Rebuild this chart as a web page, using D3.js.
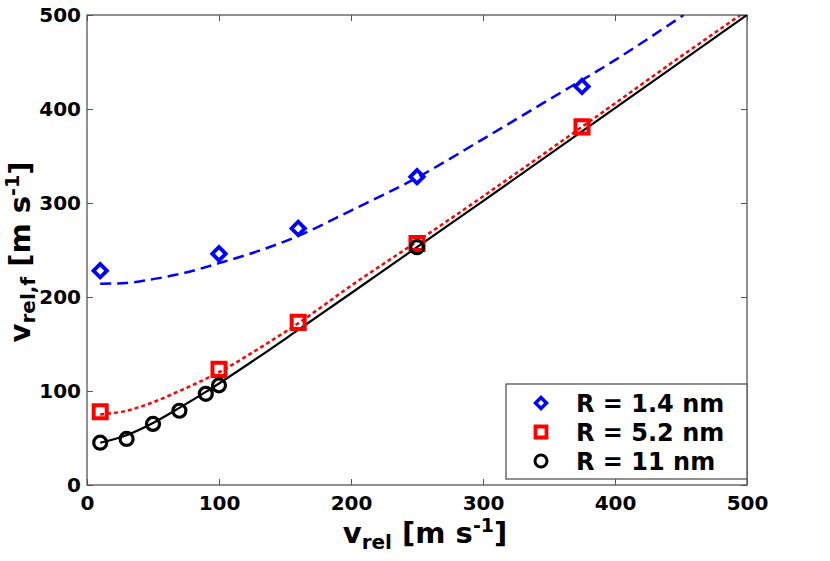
<!DOCTYPE html>
<html>
<head>
<meta charset="utf-8">
<script src="https://cdn.jsdelivr.net/npm/d3@7"></script>
<style>
  body { margin: 0; background: #fff; }
  text { font-family: "DejaVu Sans", sans-serif; font-weight: bold; }
</style>
</head>
<body>
<svg id="chart"></svg>
<script>
var width = 830, height = 561;
var margin = { top: 15, right: 83, bottom: 76, left: 87 };

// measured points
var blueX = [10, 100, 160, 250, 375];
var blueY = [228, 246, 273, 328, 424];
var redX = [10, 100, 160, 250, 375];
var redY = [78, 123, 173, 257, 381];
var blackX = [10, 30, 50, 70, 90, 100, 250];
var blackY = [45, 49, 65, 79, 97, 106, 253];

// fit curves
var blueFitX = [10, 30, 50, 75, 100, 130, 160, 200, 250, 300, 350, 400, 452];
var blueFitY = [214, 215, 219, 226, 236, 249, 265, 292, 327, 368, 410, 452, 500];
var redFitX = [10, 30, 50, 70, 100, 130, 160, 200, 250, 300, 375, 450, 500];
var redFitY = [75, 79, 88, 100, 120, 145, 172, 212, 259, 307, 381, 456, 505];
var blackFitX = [10, 30, 50, 70, 90, 100, 130, 160, 200, 250, 300, 400, 500];
var blackFitY = [45, 53, 66, 82, 99, 108, 136, 165, 204, 253, 302, 401, 500];

var legendLabels = ["R = 1.4 nm", "R = 5.2 nm", "R = 11 nm"];
var xTicks = [0, 100, 200, 300, 400, 500];
var yTicks = [0, 100, 200, 300, 400, 500];

var w = width - margin.left - margin.right;
var h = height - margin.top - margin.bottom;

var svg = d3.select("#chart").attr("width", width).attr("height", height);

var x = d3.scaleLinear().domain([0, 500]).range([margin.left, margin.left + w]);
var y = d3.scaleLinear().domain([0, 500]).range([margin.top + h, margin.top]);

svg.append("defs").append("clipPath").attr("id", "clip")
  .append("rect").attr("x", margin.left).attr("y", margin.top).attr("width", w).attr("height", h);

// axes, ticks pointing inward on all sides
function styleAxis(g) {
  g.select(".domain").remove();
  g.selectAll(".tick line").attr("stroke", "#555").attr("stroke-width", 1);
}
svg.append("g").attr("transform", "translate(0," + (margin.top + h) + ")")
  .call(d3.axisBottom(x).tickValues(xTicks).tickSizeInner(-6).tickSizeOuter(0).tickPadding(11))
  .call(styleAxis)
  .selectAll("text").attr("font-size", 20).attr("fill", "#000");
svg.append("g").attr("transform", "translate(" + margin.left + ",0)")
  .call(d3.axisLeft(y).tickValues(yTicks).tickSizeInner(-6).tickSizeOuter(0).tickPadding(6))
  .call(styleAxis)
  .selectAll("text").attr("font-size", 20).attr("fill", "#000");
svg.append("g").attr("transform", "translate(0," + margin.top + ")")
  .call(d3.axisTop(x).tickValues(xTicks).tickSizeInner(-6).tickSizeOuter(0).tickFormat(""))
  .call(styleAxis);
svg.append("g").attr("transform", "translate(" + (margin.left + w) + ",0)")
  .call(d3.axisRight(y).tickValues(yTicks).tickSizeInner(-6).tickSizeOuter(0).tickFormat(""))
  .call(styleAxis);

svg.append("rect").attr("x", margin.left).attr("y", margin.top)
  .attr("width", w).attr("height", h)
  .attr("fill", "none").attr("stroke", "#555").attr("stroke-width", 1.3);

var line = d3.line().curve(d3.curveMonotoneX)
  .x(function(d) { return x(d[0]); })
  .y(function(d) { return y(d[1]); });

var plot = svg.append("g").attr("clip-path", "url(#clip)");

function zip(a, b) { return a.map(function(v, i) { return [v, b[i]]; }); }

plot.append("path").datum(zip(blueFitX, blueFitY)).attr("d", line)
  .attr("fill", "none").attr("stroke", "#0000ff").attr("stroke-width", 2.5)
  .attr("stroke-dasharray", "11,6");
plot.append("path").datum(zip(redFitX, redFitY)).attr("d", line)
  .attr("fill", "none").attr("stroke", "#ff0000").attr("stroke-width", 2.5)
  .attr("stroke-dasharray", "4,3");
plot.append("path").datum(zip(blackFitX, blackFitY)).attr("d", line)
  .attr("fill", "none").attr("stroke", "#000").attr("stroke-width", 2.2);

var diamond = d3.symbol().type(d3.symbolSquare).size(90);
var square = d3.symbol().type(d3.symbolSquare).size(170);

svg.append("g").selectAll("path").data(zip(blueX, blueY)).enter().append("path")
  .attr("d", diamond)
  .attr("transform", function(d) { return "translate(" + x(d[0]) + "," + y(d[1]) + ") rotate(45)"; })
  .attr("fill", "none").attr("stroke", "#0000ff").attr("stroke-width", 3.8);

svg.append("g").selectAll("path").data(zip(redX, redY)).enter().append("path")
  .attr("d", square)
  .attr("transform", function(d) { return "translate(" + x(d[0]) + "," + y(d[1]) + ")"; })
  .attr("fill", "none").attr("stroke", "#ff0000").attr("stroke-width", 4);

svg.append("g").selectAll("circle").data(zip(blackX, blackY)).enter().append("circle")
  .attr("cx", function(d) { return x(d[0]); })
  .attr("cy", function(d) { return y(d[1]); })
  .attr("r", 6.5)
  .attr("fill", "none").attr("stroke", "#000").attr("stroke-width", 3.2);

// legend
var lg = svg.append("g");
lg.append("rect").attr("x", 506).attr("y", 384).attr("width", 241).attr("height", 95)
  .attr("fill", "#fff").attr("stroke", "#555").attr("stroke-width", 1.3);
var rowY = [403, 432, 461];
lg.append("path").attr("d", d3.symbol().type(d3.symbolSquare).size(60))
  .attr("transform", "translate(541," + rowY[0] + ") rotate(45)")
  .attr("fill", "none").attr("stroke", "#0000ff").attr("stroke-width", 3.5);
lg.append("path").attr("d", d3.symbol().type(d3.symbolSquare).size(120))
  .attr("transform", "translate(541," + rowY[1] + ")")
  .attr("fill", "none").attr("stroke", "#ff0000").attr("stroke-width", 3.8);
lg.append("circle").attr("cx", 541).attr("cy", rowY[2]).attr("r", 6)
  .attr("fill", "none").attr("stroke", "#000").attr("stroke-width", 3);
lg.selectAll("text.lab").data(legendLabels).enter().append("text")
  .attr("class", "lab")
  .attr("x", 576).attr("y", function(d, i) { return rowY[i]; })
  .attr("dy", "0.36em").attr("font-size", 24).text(function(d) { return d; });

// axis titles
var xt = svg.append("text").attr("x", margin.left + w / 2 + 8).attr("y", 543)
  .attr("text-anchor", "middle").attr("font-size", 29);
xt.append("tspan").text("v");
xt.append("tspan").attr("font-size", 20).attr("dy", 6).text("rel");
xt.append("tspan").attr("dy", -6).text(" [m s");
xt.append("tspan").attr("font-size", 19).attr("dy", -11).text("-1");
xt.append("tspan").attr("dy", 11).text("]");

var yt = svg.append("text").attr("transform", "translate(30,252) rotate(-90)")
  .attr("text-anchor", "middle").attr("font-size", 29);
yt.append("tspan").text("v");
yt.append("tspan").attr("font-size", 20).attr("dy", 5).text("rel,f");
yt.append("tspan").attr("dy", -5).text(" [m s");
yt.append("tspan").attr("font-size", 19).attr("dy", -11).text("-1");
yt.append("tspan").attr("dy", 11).text("]");
</script>
</body>
</html>
